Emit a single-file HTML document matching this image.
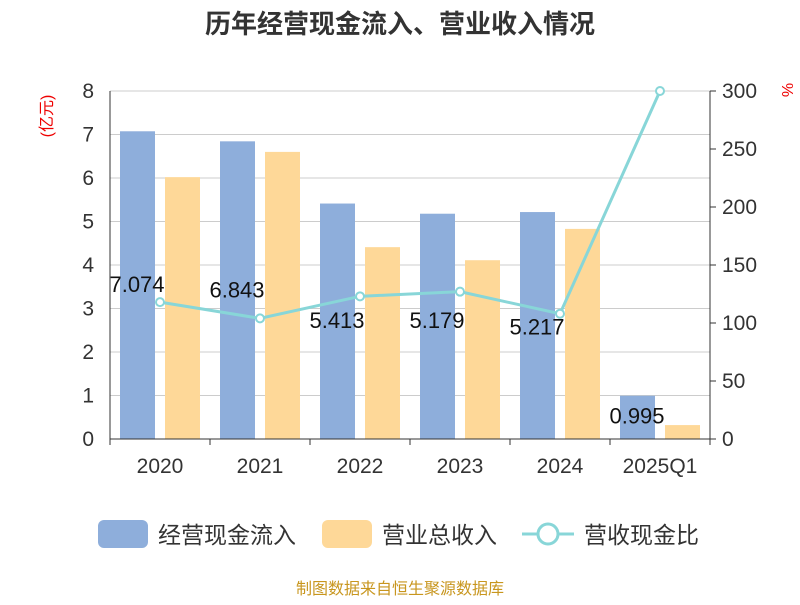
<!DOCTYPE html>
<html><head><meta charset="utf-8">
<style>
body{margin:0;background:#fff;font-family:"Liberation Sans","Noto Sans CJK SC",sans-serif;}
svg text{font-family:"Liberation Sans","Noto Sans CJK SC",sans-serif;}
</style></head>
<body>
<svg width="800" height="600" xmlns="http://www.w3.org/2000/svg">
<text x="400" y="33" text-anchor="middle" font-size="26" font-weight="bold" fill="#333">历年经营现金流入、营业收入情况</text>
<text transform="translate(52,116) rotate(-90)" text-anchor="middle" font-size="16" fill="#e00">(亿元)</text>
<text transform="translate(782,90) rotate(90)" text-anchor="middle" font-size="16" fill="#e00">%</text>
<g id="grid"></g><g id="bars"></g><g id="axes"></g><g id="line"></g><g id="labels"></g>
<g>
<rect x="98" y="520" width="50" height="28" rx="6" fill="#8eaedb"/>
<text x="158" y="543" font-size="23" fill="#333">经营现金流入</text>
<rect x="322" y="520" width="50" height="28" rx="6" fill="#fed898"/>
<text x="382" y="543" font-size="23" fill="#333">营业总收入</text>
<line x1="522" y1="534" x2="574" y2="534" stroke="#88d6d8" stroke-width="3"/>
<circle cx="548" cy="534" r="10" fill="#fff" stroke="#88d6d8" stroke-width="3"/>
<text x="584" y="543" font-size="23" fill="#333">营收现金比</text>
</g>
<text x="400" y="594" text-anchor="middle" font-size="16" fill="#c8961e">制图数据来自恒生聚源数据库</text>
</svg>
<script>
const categories=["2020","2021","2022","2023","2024","2025Q1"];
const cashInflow=[7.074,6.843,5.413,5.179,5.217,0.995];
const revenue=[6.02,6.6,4.41,4.11,4.83,0.32];
const ratio=[118,104,123,127,108,300];
const leftTicks=[0,1,2,3,4,5,6,7,8];
const rightTicks=[0,50,100,150,200,250,300];
const NS="http://www.w3.org/2000/svg";
const X0=110,X1=710,Y0=439,Y1=91;
const band=(X1-X0)/categories.length;
const yL=v=>Y0-(v/8)*(Y0-Y1);
const yR=v=>Y0-(v/300)*(Y0-Y1);
const xC=i=>X0+band*i+band/2;
function mk(tag,attrs,parent,txt){const e=document.createElementNS(NS,tag);for(const k in attrs)e.setAttribute(k,attrs[k]);if(txt!==undefined)e.textContent=txt;document.getElementById(parent).appendChild(e);return e;}
leftTicks.forEach(t=>{
 const g=mk("line",{x1:X0,x2:X1,y1:yL(t),y2:yL(t),stroke:"#ccc","stroke-width":1},"grid");
 
 
 const l=mk("text",{x:X0-16,y:yL(t)+7,"text-anchor":"end","font-size":21,fill:"#333"},"axes",String(t));
 
 
});
rightTicks.forEach(t=>{
 const l=mk("text",{x:X1+12,y:yR(t)+7,"font-size":21,fill:"#333"},"axes",String(t));
 
 
 const tk=mk("line",{x1:X1,x2:X1+6,y1:yR(t),y2:yR(t),stroke:"#333"},"axes");
 
 
});
let a=mk("line",{x1:X0,x2:X0,y1:Y1,y2:Y0,stroke:"#333"},"axes");


a=mk("line",{x1:X1,x2:X1,y1:Y1,y2:Y0,stroke:"#333"},"axes");


a=mk("line",{x1:X0,x2:X1,y1:Y0,y2:Y0,stroke:"#333"},"axes");


for(let i=0;i<=categories.length;i++){
 const tk=mk("line",{x1:X0+band*i,x2:X0+band*i,y1:Y0,y2:Y0+6,stroke:"#333"},"axes");
 
 
}
categories.forEach((c,i)=>{
 const t=mk("text",{x:xC(i),y:473,"text-anchor":"middle","font-size":21,fill:"#333"},"axes",c);
 
 
 const b1=mk("rect",{x:xC(i)-40,y:yL(cashInflow[i]),width:35,height:Y0-yL(cashInflow[i]),fill:"#8eaedb"},"bars");
 
 
 const b2=mk("rect",{x:xC(i)+5,y:yL(revenue[i]),width:35,height:Y0-yL(revenue[i]),fill:"#fed898"},"bars");
 
 
 let ly;
 if(i===5) ly=yL(cashInflow[i])+28;
 else if(i<2) ly=yR(ratio[i])-(i===0?10:21);
 else ly=Math.max(yR(ratio[i])+21,328);
 const v=mk("text",{x:xC(i)-23,y:ly,"text-anchor":"middle","font-size":22,fill:"#111"},"labels",cashInflow[i].toFixed(3));
 
 
});
const pts=ratio.map((r,i)=>xC(i)+","+yR(r)).join(" ");
const pl=mk("polyline",{points:pts,fill:"none",stroke:"#88d6d8","stroke-width":3},"line");


ratio.forEach((r,i)=>{
 const p=mk("circle",{cx:xC(i),cy:yR(r),r:4,fill:"#fff",stroke:"#88d6d8","stroke-width":2},"line");
 
 
});
</script>
</body></html>
